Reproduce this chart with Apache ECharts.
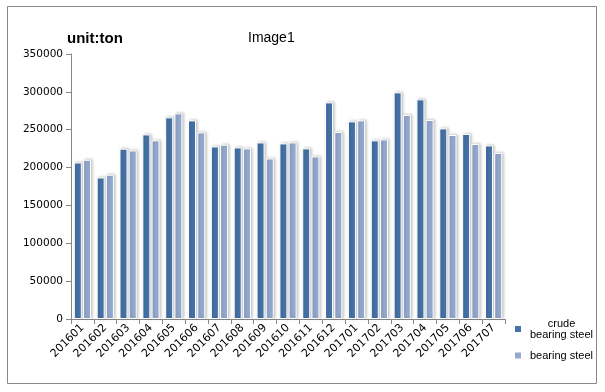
<!DOCTYPE html>
<html>
<head>
<meta charset="utf-8">
<script src="https://cdn.jsdelivr.net/npm/echarts@6/dist/echarts.min.js"></script>
<style>
html,body{margin:0;padding:0;background:#fff;}
#chart{width:605px;height:392px;}
</style>
</head>
<body>
<div id="chart"></div>
<script>
var categories = ['201601','201602','201603','201604','201605','201606','201607','201608','201609','201610','201611','201612','201701','201702','201703','201704','201705','201706','201707'];
var crudeBearingSteel = [206700,186900,224900,243800,266300,262300,227900,226600,233200,231900,225300,286100,261000,235900,299300,290100,251700,244300,229200];
var bearingSteel = [210300,190500,222600,235900,271600,246400,230200,225300,212000,233200,214700,247000,262300,237200,269400,262800,243000,231100,219200];
var seriesNames = ['crude\nbearing steel', 'bearing steel'];

var chart = echarts.init(document.getElementById('chart'));
var font = 'Liberation Sans';
var axFont = 'DejaVu Sans';
var barStyle = function(color){
  return {color: color, borderColor:'#fff', borderWidth:1,
    shadowColor:'rgba(0,0,0,0.22)', shadowBlur:3, shadowOffsetX:1.5, shadowOffsetY:-0.5};
};
chart.setOption({
  animation:false,
  backgroundColor:'#fff',
  graphic:[{type:'rect', shape:{x:7.5,y:6.5,width:589,height:377}, style:{fill:'none', stroke:'#888', lineWidth:1}, silent:true}],
  title:[
    {text:'unit:ton', left:62, top:26, textStyle:{fontFamily:font, fontSize:15, fontWeight:'bold', color:'#000'}},
    {text:'Image1', left:243, top:26, textStyle:{fontFamily:font, fontSize:14, fontWeight:'normal', color:'#000'}}
  ],
  legend:{
    orient:'vertical', left:508, top:313, itemWidth:8, itemHeight:8, itemGap:10,
    icon:'rect',
    data:seriesNames,
    formatter:function(n){
      if(n.indexOf('\n')>=0){ var p=n.split('\n'); return '{c|'+p[0]+'}\n{d|'+p[1]+'}'; }
      return '{d|'+n+'}';
    },
    textStyle:{fontFamily:font, fontSize:11, color:'#000', padding:[0,0,0,3],
      rich:{c:{fontFamily:font,fontSize:11,color:'#000',align:'center',width:58,lineHeight:11},
            d:{fontFamily:font,fontSize:11,color:'#000',lineHeight:11}}}
  },
  grid:{left:71, right:100, top:54, bottom:73},
  xAxis:{
    type:'category', data:categories, boundaryGap:true,
    axisLine:{lineStyle:{color:'#888'}},
    axisTick:{show:true, length:5, lineStyle:{color:'#888'}},
    axisLabel:{rotate:45, interval:0, fontFamily:axFont, fontSize:11, color:'#000', margin:7}
  },
  yAxis:{
    type:'value', min:0, max:350000, interval:50000,
    axisLine:{show:true, lineStyle:{color:'#888'}},
    axisTick:{show:true, length:5, lineStyle:{color:'#888'}},
    splitLine:{show:false},
    axisLabel:{fontFamily:axFont, fontSize:10.5, color:'#000', margin:8, formatter:function(v){return String(v);}}
  },
  series:[
    {name:seriesNames[0], type:'bar', data:crudeBearingSteel, barWidth:8, barGap:'15%', itemStyle:barStyle('#4572A7')},
    {name:seriesNames[1], type:'bar', data:bearingSteel, barWidth:8, barGap:'15%', itemStyle:barStyle('#93A9CF')}
  ]
});
</script>
</body>
</html>
